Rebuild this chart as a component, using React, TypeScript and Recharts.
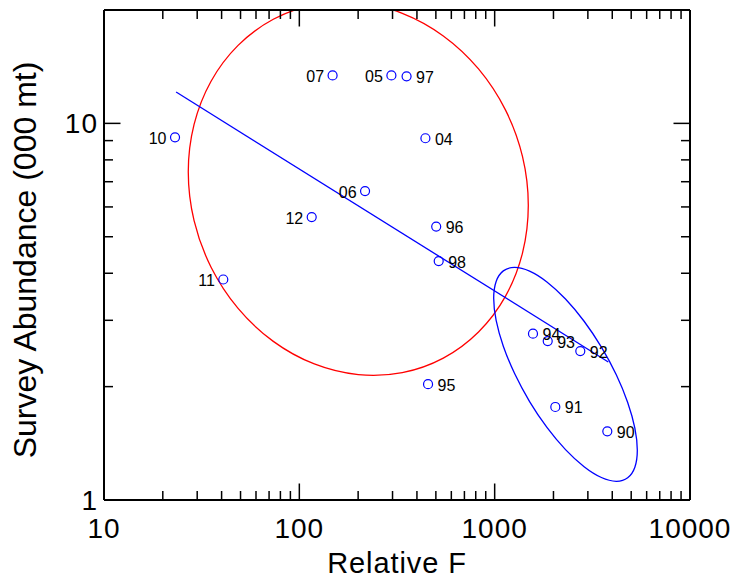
import React from 'react';
import { ComposedChart, Line, Scatter, XAxis, YAxis, Label } from 'recharts';

// ---- data ----
const YEAR_LABELS = ['90', '91', '92', '93', '94', '95', '96', '97', '98', '04', '05', '06', '07', '10', '11', '12'];
const RELATIVE_F = [3773, 2044, 2744, 1869, 1571, 456, 502, 354, 517, 442, 296, 217, 148, 23.1, 40.8, 115.7];
const SURVEY_ABUNDANCE = [1.522, 1.766, 2.486, 2.643, 2.765, 2.03, 5.32, 13.33, 4.31, 9.13, 13.41, 6.61, 13.41, 9.18, 3.85, 5.64];
const LEFT_LABELED = ['07', '05', '10', '06', '12', '11'];

const FIT_F = [23.4, 3817];
const FIT_ABUNDANCE = [12.11, 2.325];

const RED_ELLIPSE_F = [1521, 1420, 1160, 840.2, 552.2, 338.6, 200.4, 118.6, 72.72, 47.79, 34.63, 28.28, 26.39, 28.28, 34.63, 47.79, 72.72, 118.6, 200.4, 338.6, 552.2, 840.2, 1160, 1420];
const RED_ELLIPSE_ABUNDANCE = [6.051, 4.51, 3.452, 2.766, 2.353, 2.151, 2.124, 2.269, 2.609, 3.2, 4.129, 5.504, 7.439, 9.982, 13.04, 16.27, 19.12, 20.93, 21.19, 19.84, 17.25, 14.07, 10.9, 8.177];

const BLUE_ELLIPSE_F = [5426, 5270, 4838, 4223, 3537, 2877, 2305, 1847, 1502, 1258, 1098, 1008, 979, 1008, 1098, 1258, 1502, 1847, 2305, 2877, 3537, 4223, 4838, 5270];
const BLUE_ELLIPSE_ABUNDANCE = [1.348, 1.214, 1.137, 1.113, 1.139, 1.218, 1.354, 1.553, 1.822, 2.163, 2.566, 3.009, 3.45, 3.829, 4.088, 4.178, 4.082, 3.818, 3.435, 2.994, 2.551, 2.15, 1.812, 1.545];

const X_TICKS = [10, 20, 30, 40, 50, 60, 70, 80, 90, 100, 200, 300, 400, 500, 600, 700, 800, 900, 1000, 2000, 3000, 4000, 5000, 6000, 7000, 8000, 9000, 10000];
const X_MAJOR = [10, 100, 1000, 10000];
const Y_TICKS = [1, 2, 3, 4, 5, 6, 7, 8, 9, 10];
const Y_MAJOR = [1, 10];

const X_TITLE = 'Relative F';
const Y_TITLE = 'Survey Abundance (000 mt)';

// ---- tables for the library ----
const points = YEAR_LABELS.map((label, i) => ({ x: RELATIVE_F[i], y: SURVEY_ABUNDANCE[i], label }));
const fitData = FIT_F.map((x, i) => ({ x, y: FIT_ABUNDANCE[i] }));
const redEllipse = RED_ELLIPSE_F.map((x, i) => ({ x, y: RED_ELLIPSE_ABUNDANCE[i] }));
const blueEllipse = BLUE_ELLIPSE_F.map((x, i) => ({ x, y: BLUE_ELLIPSE_ABUNDANCE[i] }));

const FONT = '"Liberation Sans", Arial, Helvetica, sans-serif';
const MAJOR_LEN = 16.5;
const MINOR_LEN = 9;
const TICK_W = 1.5;

const BottomTick = (props: any) => {
  const { x, y, payload } = props;
  const v = payload.value;
  const major = X_MAJOR.includes(v);
  return (
    <g>
      <line x1={x} x2={x} y1={y} y2={y - (major ? MAJOR_LEN : MINOR_LEN)} stroke="#000" strokeWidth={TICK_W} />
      {major && (
        <text x={x} y={y + 38} textAnchor="middle" fontSize={28} letterSpacing={1} fontFamily={FONT} fill="#000">
          {v}
        </text>
      )}
    </g>
  );
};

const TopTick = (props: any) => {
  const { x, y, payload } = props;
  const major = X_MAJOR.includes(payload.value);
  return <line x1={x} x2={x} y1={y} y2={y + (major ? MAJOR_LEN : MINOR_LEN)} stroke="#000" strokeWidth={TICK_W} />;
};

const LeftTick = (props: any) => {
  const { x, y, payload } = props;
  const v = payload.value;
  const major = Y_MAJOR.includes(v);
  return (
    <g>
      <line x1={x} x2={x + (major ? MAJOR_LEN : MINOR_LEN)} y1={y} y2={y} stroke="#000" strokeWidth={TICK_W} />
      {major && (
        <text x={x - 6} y={y + 10} textAnchor="end" fontSize={28} letterSpacing={1} fontFamily={FONT} fill="#000">
          {v}
        </text>
      )}
    </g>
  );
};

const RightTick = (props: any) => {
  const { x, y, payload } = props;
  const major = Y_MAJOR.includes(payload.value);
  return <line x1={x} x2={x - (major ? MAJOR_LEN : MINOR_LEN)} y1={y} y2={y} stroke="#000" strokeWidth={TICK_W} />;
};

const PointShape = (props: any) => {
  const { cx, cy, payload } = props;
  const left = LEFT_LABELED.includes(payload.label);
  return (
    <g>
      <circle cx={cx} cy={cy} r={4.5} fill="none" stroke="#0000ff" strokeWidth={1.2} />
      <text
        x={left ? cx - 8.5 : cx + 9.5}
        y={cy + 6.5}
        textAnchor={left ? 'end' : 'start'}
        fontSize={16}
        fontFamily={FONT}
        fill="#000"
      >
        {payload.label}
      </text>
    </g>
  );
};

const XTitle = (props: any) => {
  const vb = props.viewBox || { x: 104, y: 500, width: 586, height: 84 };
  return (
    <text x={vb.x + vb.width / 2} y={vb.y + 73} textAnchor="middle" fontSize={29} letterSpacing={0.9} fontFamily={FONT} fill="#000">
      {X_TITLE}
    </text>
  );
};

const YTitle = (props: any) => {
  const vb = props.viewBox || { x: 0, y: 10, width: 104, height: 490 };
  const cx = vb.x + 35.5;
  const cy = vb.y + vb.height / 2 + 5;
  return (
    <text transform={`translate(${cx},${cy}) rotate(-90)`} x={0} y={0} textAnchor="middle" fontSize={32} fontFamily={FONT} fill="#000">
      {Y_TITLE}
    </text>
  );
};

const axisLine = { stroke: '#000', strokeWidth: 2 };

export default function App() {
  return (
    <div style={{ position: 'absolute', left: 0, top: 0, width: 737, height: 584, background: '#fff' }}>
      <ComposedChart width={737} height={584} margin={{ top: 0, right: 0, bottom: 0, left: 0 }}>
        <XAxis
          dataKey="x"
          type="number"
          scale="log"
          domain={[10, 10000]}
          allowDataOverflow
          ticks={X_TICKS}
          interval={0}
          tickLine={false}
          tickSize={0}
          tickMargin={0}
          tick={BottomTick}
          axisLine={axisLine}
          height={84}
        >
          <Label content={XTitle} />
        </XAxis>
        <XAxis
          xAxisId="top"
          orientation="top"
          dataKey="x"
          type="number"
          scale="log"
          domain={[10, 10000]}
          allowDataOverflow
          ticks={X_TICKS}
          interval={0}
          tickLine={false}
          tickSize={0}
          tickMargin={0}
          tick={TopTick}
          axisLine={axisLine}
          height={10}
        />
        <YAxis
          dataKey="y"
          type="number"
          scale="log"
          domain={[1, 20]}
          allowDataOverflow
          ticks={Y_TICKS}
          interval={0}
          tickLine={false}
          tickSize={0}
          tickMargin={0}
          tick={LeftTick}
          axisLine={axisLine}
          width={104}
        >
          <Label content={YTitle} />
        </YAxis>
        <YAxis
          yAxisId="right"
          orientation="right"
          dataKey="y"
          type="number"
          scale="log"
          domain={[1, 20]}
          allowDataOverflow
          ticks={Y_TICKS}
          interval={0}
          tickLine={false}
          tickSize={0}
          tickMargin={0}
          tick={RightTick}
          axisLine={axisLine}
          width={47}
        />
        <Line data={redEllipse} dataKey="y" type="basisClosed" stroke="#ff0000" strokeWidth={1.3} dot={false} activeDot={false} isAnimationActive={false} />
        <Line data={blueEllipse} dataKey="y" type="basisClosed" stroke="#0000ff" strokeWidth={1.3} dot={false} activeDot={false} isAnimationActive={false} />
        <Line data={fitData} dataKey="y" type="linear" stroke="#0000ff" strokeWidth={1.3} dot={false} activeDot={false} isAnimationActive={false} />
        <Scatter data={points} shape={PointShape} isAnimationActive={false} />
      </ComposedChart>
    </div>
  );
}
